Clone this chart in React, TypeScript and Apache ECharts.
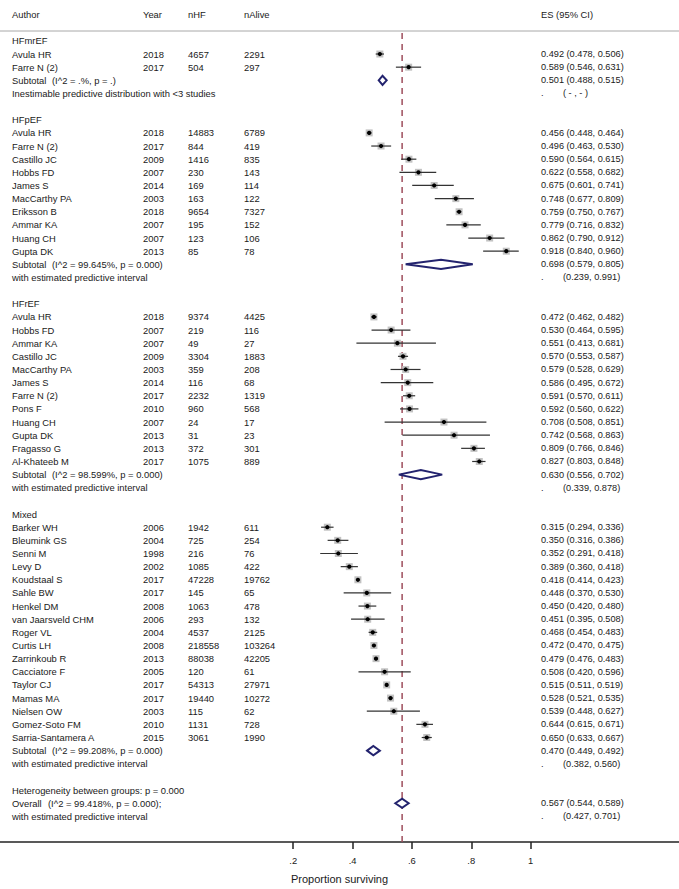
import React, { useEffect, useRef } from "react";
import * as echarts from "echarts";

const FONT = "'Liberation Sans', Arial, Helvetica, sans-serif";

// Group names
const groupNames = ["HFmrEF", "HFpEF", "HFrEF", "Mixed"];

// Studies per group: [author, year, nHF, nAlive, ES, lower, upper]
const hfmrefStudies: [string, number, number, number, number, number, number][] = [
  ["Avula HR", 2018, 4657, 2291, 0.492, 0.478, 0.506],
  ["Farre N (2)", 2017, 504, 297, 0.589, 0.546, 0.631],
];
const hfpefStudies: [string, number, number, number, number, number, number][] = [
  ["Avula HR", 2018, 14883, 6789, 0.456, 0.448, 0.464],
  ["Farre N (2)", 2017, 844, 419, 0.496, 0.463, 0.53],
  ["Castillo JC", 2009, 1416, 835, 0.59, 0.564, 0.615],
  ["Hobbs FD", 2007, 230, 143, 0.622, 0.558, 0.682],
  ["James S", 2014, 169, 114, 0.675, 0.601, 0.741],
  ["MacCarthy PA", 2003, 163, 122, 0.748, 0.677, 0.809],
  ["Eriksson B", 2018, 9654, 7327, 0.759, 0.75, 0.767],
  ["Ammar KA", 2007, 195, 152, 0.779, 0.716, 0.832],
  ["Huang CH", 2007, 123, 106, 0.862, 0.79, 0.912],
  ["Gupta DK", 2013, 85, 78, 0.918, 0.84, 0.96],
];
const hfrefStudies: [string, number, number, number, number, number, number][] = [
  ["Avula HR", 2018, 9374, 4425, 0.472, 0.462, 0.482],
  ["Hobbs FD", 2007, 219, 116, 0.53, 0.464, 0.595],
  ["Ammar KA", 2007, 49, 27, 0.551, 0.413, 0.681],
  ["Castillo JC", 2009, 3304, 1883, 0.57, 0.553, 0.587],
  ["MacCarthy PA", 2003, 359, 208, 0.579, 0.528, 0.629],
  ["James S", 2014, 116, 68, 0.586, 0.495, 0.672],
  ["Farre N (2)", 2017, 2232, 1319, 0.591, 0.57, 0.611],
  ["Pons F", 2010, 960, 568, 0.592, 0.56, 0.622],
  ["Huang CH", 2007, 24, 17, 0.708, 0.508, 0.851],
  ["Gupta DK", 2013, 31, 23, 0.742, 0.568, 0.863],
  ["Fragasso G", 2013, 372, 301, 0.809, 0.766, 0.846],
  ["Al-Khateeb M", 2017, 1075, 889, 0.827, 0.803, 0.848],
];
const mixedStudies: [string, number, number, number, number, number, number][] = [
  ["Barker WH", 2006, 1942, 611, 0.315, 0.294, 0.336],
  ["Bleumink GS", 2004, 725, 254, 0.35, 0.316, 0.386],
  ["Senni M", 1998, 216, 76, 0.352, 0.291, 0.418],
  ["Levy D", 2002, 1085, 422, 0.389, 0.36, 0.418],
  ["Koudstaal S", 2017, 47228, 19762, 0.418, 0.414, 0.423],
  ["Sahle BW", 2017, 145, 65, 0.448, 0.37, 0.53],
  ["Henkel DM", 2008, 1063, 478, 0.45, 0.42, 0.48],
  ["van Jaarsveld CHM", 2006, 293, 132, 0.451, 0.395, 0.508],
  ["Roger VL", 2004, 4537, 2125, 0.468, 0.454, 0.483],
  ["Curtis LH", 2008, 218558, 103264, 0.472, 0.47, 0.475],
  ["Zarrinkoub R", 2013, 88038, 42205, 0.479, 0.476, 0.483],
  ["Cacciatore F", 2005, 120, 61, 0.508, 0.42, 0.596],
  ["Taylor CJ", 2017, 54313, 27971, 0.515, 0.511, 0.519],
  ["Mamas MA", 2017, 19440, 10272, 0.528, 0.521, 0.535],
  ["Nielsen OW", 2003, 115, 62, 0.539, 0.448, 0.627],
  ["Gomez-Soto FM", 2010, 1131, 728, 0.644, 0.615, 0.671],
  ["Sarria-Santamera A", 2015, 3061, 1990, 0.65, 0.633, 0.667],
];
const groupStudies = [hfmrefStudies, hfpefStudies, hfrefStudies, mixedStudies];

// Subtotals
const subtotalStats = [
  "(I^2 = .%, p = .)",
  "(I^2 = 99.645%, p = 0.000)",
  "(I^2 = 98.599%, p = 0.000)",
  "(I^2 = 99.208%, p = 0.000)",
];
const subtotalES: [number, number, number][] = [
  [0.501, 0.488, 0.515],
  [0.698, 0.579, 0.805],
  [0.63, 0.556, 0.702],
  [0.47, 0.449, 0.492],
];
const subtotalPredictive: ([number, number] | null)[] = [
  null,
  [0.239, 0.991],
  [0.339, 0.878],
  [0.382, 0.56],
];

// Overall
const heterogeneityText = "Heterogeneity between groups: p = 0.000";
const overallStats = "(I^2 = 99.418%, p = 0.000);";
const overallES: [number, number, number] = [0.567, 0.544, 0.589];
const overallPredictive: [number, number] = [0.427, 0.701];

// Axis ticks
const xTicks = [0.2, 0.4, 0.6, 0.8, 1];
const xTickLabels = [".2", ".4", ".6", ".8", "1"];
const headerLabels = ["Author", "Year", "nHF", "nAlive", "ES (95% CI)"];

const f3 = (v: number) => v.toFixed(3);
const ciText = (e: number, l: number, h: number) => `${f3(e)} (${f3(l)}, ${f3(h)})`;

type Row = {
  idx: number;
  label?: string;
  label2?: string;
  year?: string;
  nhf?: string;
  nalive?: string;
  es?: string;
  dot?: boolean;
  pred?: string;
  header?: boolean;
};

export default function App() {
  const ref = useRef<HTMLDivElement>(null);
  useEffect(() => {
    if (!ref.current) return;
    const chart = echarts.init(ref.current, undefined, { renderer: "svg" });

    const rows: Row[] = [];
    const studyData: number[][] = [];
    const diamondData: number[][] = [];
    rows.push({ idx: -2, header: true });
    let r = 0;
    groupNames.forEach((g, gi) => {
      rows.push({ idx: r++, label: g });
      groupStudies[gi].forEach((s) => {
        rows.push({
          idx: r,
          label: s[0],
          year: String(s[1]),
          nhf: String(s[2]),
          nalive: String(s[3]),
          es: ciText(s[4], s[5], s[6]),
        });
        studyData.push([s[4], s[5], s[6], r]);
        r++;
      });
      const st = subtotalES[gi];
      rows.push({ idx: r, label: "Subtotal", label2: subtotalStats[gi], es: ciText(st[0], st[1], st[2]) });
      diamondData.push([st[0], st[1], st[2], r]);
      r++;
      const p = subtotalPredictive[gi];
      if (p) {
        rows.push({ idx: r, label: "with estimated predictive interval", dot: true, pred: `(${f3(p[0])}, ${f3(p[1])})` });
      } else {
        rows.push({ idx: r, label: "Inestimable predictive distribution with <3 studies", dot: true, pred: "( - , - )" });
      }
      r++;
      r++; // blank row
    });
    rows.push({ idx: r++, label: heterogeneityText });
    rows.push({ idx: r, label: "Overall", label2: overallStats, es: ciText(overallES[0], overallES[1], overallES[2]) });
    diamondData.push([overallES[0], overallES[1], overallES[2], r]);
    r++;
    rows.push({
      idx: r++,
      label: "with estimated predictive interval",
      dot: true,
      pred: `(${f3(overallPredictive[0])}, ${f3(overallPredictive[1])})`,
    });

    const TEXT = "#1a1a1a";
    const mkText = (x: number, y: number, text: string, size = 9.4) => ({
      type: "text",
      x,
      y,
      style: {
        text,
        fill: TEXT,
        fontSize: size,
        fontFamily: FONT,
        align: "left",
        verticalAlign: "middle",
        textAlign: "left",
        textVerticalAlign: "middle",
      },
    });

    const Y_MIN = -0.752;
    const Y_MAX = 60.95;

    const option: any = {
      animation: false,
      backgroundColor: "#ffffff",
      grid: { left: 0, right: 0, top: 31, bottom: 38, containLabel: false },
      xAxis: {
        type: "value",
        min: -0.788,
        max: 1.5,
        splitLine: { show: false },
        axisLine: { show: true, onZero: false, lineStyle: { color: "#222", width: 1.5 } },
        axisTick: {
          show: true,
          length: 7,
          customValues: xTicks,
          lineStyle: { color: "#222", width: 1.5 },
        },
        axisLabel: {
          show: true,
          customValues: xTicks,
          margin: 14,
          color: TEXT,
          fontSize: 9.4,
          fontFamily: FONT,
          formatter: (v: number) => {
            const i = xTicks.findIndex((t) => Math.abs(t - v) < 1e-9);
            return i >= 0 ? xTickLabels[i] : "";
          },
        },
        name: "Proportion surviving",
        nameLocation: "middle",
        nameGap: 31,
        nameTextStyle: { fontSize: 11, fontFamily: FONT, color: TEXT },
      },
      yAxis: {
        type: "value",
        inverse: true,
        min: Y_MIN,
        max: Y_MAX,
        show: false,
      },
      graphic: [
        {
          type: "line",
          shape: { x1: 0, y1: 31, x2: 679, y2: 31 },
          style: { stroke: "#a8a8a8", lineWidth: 1 },
          z: 1,
        },
      ],
      series: [
        {
          type: "custom",
          name: "null line",
          z: 1,
          clip: false,
          data: [[overallES[0]]],
          renderItem: (params: any, api: any) => {
            const a = api.coord([api.value(0), Y_MIN]);
            const b = api.coord([api.value(0), Y_MAX]);
            return {
              type: "line",
              shape: { x1: a[0], y1: a[1] + 2, x2: b[0], y2: b[1] },
              style: { stroke: "#9e4d5c", lineWidth: 1.5, lineDash: [6, 5] },
            };
          },
        },
        {
          type: "custom",
          name: "studies",
          z: 2,
          clip: false,
          data: studyData,
          renderItem: (params: any, api: any) => {
            const row = api.value(3);
            const c = api.coord([api.value(0), row]);
            const l = api.coord([api.value(1), row]);
            const h = api.coord([api.value(2), row]);
            const s = 7;
            return {
              type: "group",
              children: [
                {
                  type: "rect",
                  shape: { x: c[0] - s / 2, y: c[1] - s / 2, width: s, height: s },
                  style: { fill: "#c2c2c2" },
                },
                {
                  type: "line",
                  shape: { x1: l[0], y1: c[1], x2: h[0], y2: c[1] },
                  style: { stroke: "#333", lineWidth: 1.2 },
                },
                {
                  type: "circle",
                  shape: { cx: c[0], cy: c[1], r: 2.1 },
                  style: { fill: "#000" },
                },
              ],
            };
          },
        },
        {
          type: "custom",
          name: "diamonds",
          z: 3,
          clip: false,
          data: diamondData,
          renderItem: (params: any, api: any) => {
            const row = api.value(3);
            const c = api.coord([api.value(0), row]);
            const l = api.coord([api.value(1), row]);
            const h = api.coord([api.value(2), row]);
            const hh = 4.6;
            return {
              type: "polygon",
              shape: {
                points: [
                  [l[0], c[1]],
                  [c[0], c[1] - hh],
                  [h[0], c[1]],
                  [c[0], c[1] + hh],
                ],
              },
              style: { fill: "#ffffff", stroke: "#23236e", lineWidth: 2, lineJoin: "miter" },
            };
          },
        },
        {
          type: "custom",
          name: "texts",
          z: 4,
          clip: false,
          data: rows.map((rw) => [0, rw.idx]),
          renderItem: (params: any, api: any) => {
            const rw = rows[params.dataIndex];
            const y = api.coord([0, rw.idx])[1];
            const ch: any[] = [];
            if (rw.header) {
              ch.push(mkText(12, y, headerLabels[0]));
              ch.push(mkText(143, y, headerLabels[1]));
              ch.push(mkText(188, y, headerLabels[2]));
              ch.push(mkText(244, y, headerLabels[3]));
              ch.push(mkText(541, y, headerLabels[4]));
            } else {
              if (rw.label) ch.push(mkText(12, y, rw.label));
              if (rw.label2) {
                const x2 = rw.label === "Subtotal" ? 52 : 48;
                ch.push(mkText(x2, y, rw.label2));
              }
              if (rw.year) ch.push(mkText(143, y, rw.year));
              if (rw.nhf) ch.push(mkText(188, y, rw.nhf));
              if (rw.nalive) ch.push(mkText(244, y, rw.nalive));
              if (rw.es) ch.push(mkText(541, y, rw.es, 9.2));
              if (rw.dot) ch.push(mkText(541, y, ".", 9.2));
              if (rw.pred) ch.push(mkText(563, y, rw.pred, 9.2));
            }
            return { type: "group", children: ch };
          },
        },
      ],
    };
    chart.setOption(option);
    return () => chart.dispose();
  }, []);
  return (
    <div
      ref={ref}
      style={{ position: "absolute", left: 0, top: 0, width: 679, height: 889, background: "#fff" }}
    />
  );
}
